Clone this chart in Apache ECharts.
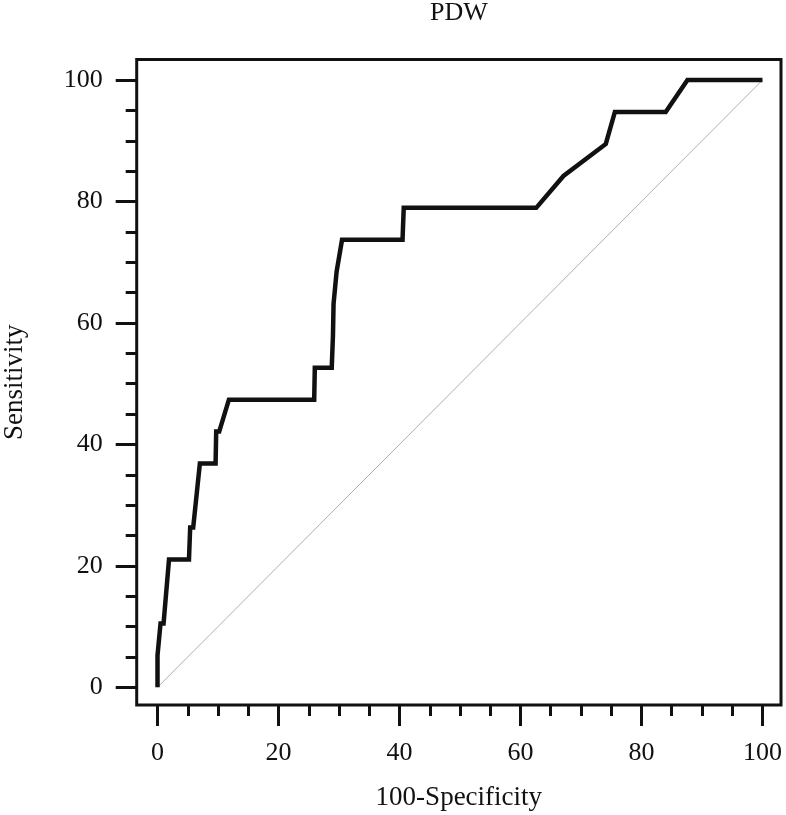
<!DOCTYPE html>
<html>
<head>
<meta charset="utf-8">
<script src="https://cdn.jsdelivr.net/npm/echarts@6/dist/echarts.min.js"></script>
<style>html,body{margin:0;padding:0;background:#fff;}#c{width:786px;height:815px;}</style>
</head>
<body>
<div id="c"></div>
<script>
var titleText = 'PDW';
var xName = '100-Specificity';
var yName = 'Sensitivity';
// ROC curve points (100-Specificity, Sensitivity)
var fpr = [0, 0, 0.5, 1.0, 1.9, 5.2, 5.4, 5.9, 7.0, 9.6, 9.7, 10.2, 11.8, 25.9, 26.0, 28.8, 29.0, 29.1, 29.6, 30.5, 40.5, 40.7, 62.6, 67.1, 74.1, 75.6, 84.0, 87.6, 100];
var tpr = [0, 5.26, 10.53, 10.53, 21.05, 21.05, 26.32, 26.32, 36.84, 36.84, 42.11, 42.11, 47.37, 47.37, 52.63, 52.63, 57.89, 63.16, 68.42, 73.68, 73.68, 78.95, 78.95, 84.21, 89.47, 94.74, 94.74, 100, 100];
var diagX = [0, 100];
var diagY = [0, 100];
var majorTicks = [0, 20, 40, 60, 80, 100];
var minorTicks = [5, 10, 15, 25, 30, 35, 45, 50, 55, 65, 70, 75, 85, 90, 95];

var FONT = '"Liberation Serif", "Times New Roman", serif';
var INK = '#111';

function pairs(xs, ys) { return xs.map(function (v, i) { return [v, ys[i]]; }); }

var xMin = -3.44, xMax = 103.06, yMin = -2.91, yMax = 103.38;

function xAxisDef(ticks, len, withLabels, extra) {
  return Object.assign({
    type: 'value', min: xMin, max: xMax, position: 'bottom',
    axisLine: { show: false, onZero: false },
    splitLine: { show: false },
    axisTick: { show: true, inside: false, customValues: ticks, length: len, lineStyle: { color: INK, width: 3 } },
    axisLabel: withLabels ? { show: true, customValues: ticks, margin: 35, color: INK, fontFamily: FONT, fontSize: 26 } : { show: false }
  }, extra || {});
}
function yAxisDef(ticks, len, withLabels, extra) {
  return Object.assign({
    type: 'value', min: yMin, max: yMax, position: 'left',
    axisLine: { show: false, onZero: false },
    splitLine: { show: false },
    axisTick: { show: true, inside: false, customValues: ticks, length: len, lineStyle: { color: INK, width: 3 } },
    axisLabel: withLabels ? { show: true, customValues: ticks, margin: 34, color: INK, fontFamily: FONT, fontSize: 26 } : { show: false }
  }, extra || {});
}

var chart = echarts.init(document.getElementById('c'), null, { renderer: 'canvas' });
chart.setOption({
  animation: false,
  backgroundColor: '#fff',
  title: {
    text: titleText, left: 459, top: 0, padding: 0, textAlign: 'center',
    textStyle: { fontFamily: FONT, fontSize: 26, fontWeight: 'normal', color: INK }
  },
  grid: {
    left: 136.7, right: 5, top: 59.5, bottom: 110,
    containLabel: false, outerBoundsMode: 'none',
    show: true, borderColor: INK, borderWidth: 3, backgroundColor: 'transparent'
  },
  xAxis: [
    xAxisDef(majorTicks, 21, true, {
      name: xName, nameLocation: 'middle', nameGap: 79,
      nameTextStyle: { fontFamily: FONT, fontSize: 27, color: INK }
    }),
    xAxisDef(minorTicks, 11, false)
  ],
  yAxis: [
    yAxisDef(majorTicks, 21, true, {
      name: yName, nameLocation: 'middle', nameGap: 108, nameRotate: 90,
      nameTextStyle: { fontFamily: FONT, fontSize: 27, color: INK }
    }),
    yAxisDef(minorTicks, 11, false)
  ],
  series: [
    {
      type: 'line', xAxisIndex: 0, yAxisIndex: 0,
      data: pairs(diagX, diagY), symbol: 'none',
      lineStyle: { color: '#b0b0b0', width: 1 }, z: 1
    },
    {
      type: 'line', xAxisIndex: 0, yAxisIndex: 0,
      data: pairs(fpr, tpr), symbol: 'none',
      lineStyle: { color: INK, width: 4.5, join: 'miter' }, z: 2
    }
  ]
});
</script>
</body>
</html>
